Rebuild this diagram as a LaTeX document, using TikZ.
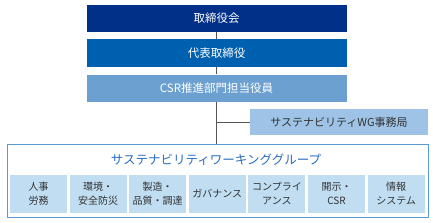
\documentclass[tikz,border=0pt]{standalone}
\usepackage{fontspec}
\setmainfont{Noto Sans CJK JP}
\usetikzlibrary{positioning,calc}

\definecolor{navyboard}{RGB}{0,48,135}
\definecolor{bluerep}{RGB}{0,96,176}
\definecolor{bluecsr}{RGB}{108,160,208}
\definecolor{bluesec}{RGB}{158,195,230}
\definecolor{bluesub}{RGB}{192,221,242}
\definecolor{bluewg}{RGB}{91,155,213}
\definecolor{titlewg}{RGB}{40,110,190}
\definecolor{linegray}{RGB}{85,85,85}
\definecolor{textgray}{RGB}{51,51,51}

\begin{document}
\begin{tikzpicture}[x=1pt,y=-1pt]
  \tikzstyle{topbox}=[inner sep=0pt,minimum width=260pt,minimum height=27pt,align=center,text=white,font=\fontsize{11.5}{14}\selectfont]
  \tikzstyle{secbox}=[fill=bluesec,inner sep=0pt,minimum width=178pt,minimum height=26pt,align=center,text=textgray,font=\fontsize{11}{14}\selectfont]
  \tikzstyle{subbox}=[fill=bluesub,inner sep=0pt,minimum width=57pt,minimum height=38pt,align=center,text=textgray,font=\fontsize{10}{14}\selectfont]
  \tikzstyle{link}=[draw=linegray,line width=0.9pt]
  \useasboundingbox (0,0) rectangle (433,222);

  \node[topbox,fill=navyboard] (board) at (216.5,18.5) {取締役会};
  \node[topbox,fill=bluerep] (rep) at (216.5,53) {代表取締役};
  \node[topbox,fill=bluecsr] (csr) at (216.5,88) {CSR推進部門担当役員};
  \node[secbox] (sec) at (339,122) {サステナビリティWG事務局};

  \node[draw=bluewg,line width=0.9pt,fill=white,inner sep=0pt,minimum width=421pt,minimum height=73pt] (wg) at (217.5,180.5) {};
  \node[text=titlewg,font=\fontsize{12.5}{14}\selectfont] (wgtitle) at (216,160) {サステナビリティワーキンググループ};

  \node[subbox] (hr) at (38.5,194) {人事\\労務};
  \node[subbox] (env) at (98.1,194) {環境・\\安全防災};
  \node[subbox] (mfg) at (157.7,194) {製造・\\品質・調達};
  \node[subbox] (gov) at (217.3,194) {ガバナンス};
  \node[subbox] (comp) at (276.9,194) {コンプライ\\アンス};
  \node[subbox] (disc) at (336.5,194) {開示・\\CSR};
  \node[subbox] (it) at (396.1,194) {情報\\システム};

  \draw[link] (board) -- (rep);
  \draw[link] (rep) -- (csr);
  \draw[link] (csr.south) -- (csr.south |- wg.north);
  \coordinate (secjoint) at (csr.south |- sec.west);
  \draw[link] (secjoint) -- (sec.west);
\end{tikzpicture}
\end{document}
